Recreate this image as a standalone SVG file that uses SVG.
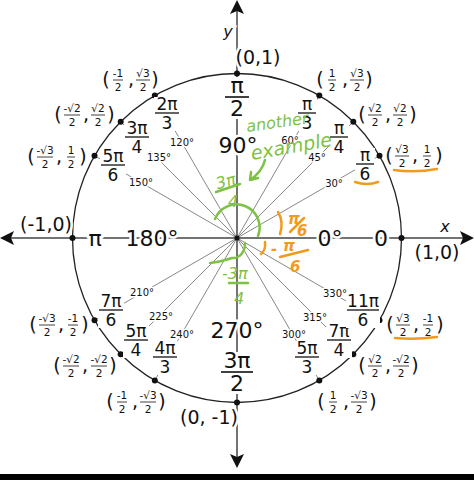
<svg xmlns="http://www.w3.org/2000/svg" width="474" height="480" viewBox="0 0 474 480">
<style>
text{font-family:"DejaVu Sans","Liberation Sans",sans-serif;fill:#111}
.ray{stroke:#888;stroke-width:1}
.deg{font-size:10px;text-anchor:middle;stroke:#fff;stroke-width:3;paint-order:stroke}
.fn{font-size:17px;text-anchor:middle}
.big{font-size:22px;text-anchor:middle}
.sm{font-size:10.5px;text-anchor:middle}
.par{font-size:19px;text-anchor:middle}
.bar{stroke:#111;stroke-width:1.3}
.g{fill:none;stroke:#7dc242;stroke-width:2.5;stroke-linecap:round}
.gt{font-family:"DejaVu Sans",sans-serif;font-style:italic;fill:#7dc242;font-size:16px}
.o{fill:none;stroke:#f29a1d;stroke-width:2.5;stroke-linecap:round}
.ot{font-family:"DejaVu Sans",sans-serif;font-style:italic;fill:#f29a1d;font-size:15px;font-weight:bold}
</style>
<rect width="474" height="480" fill="#fff"/>
<g id="connectors">
<g transform="translate(237,238)">
<line class="ray" x1="0" y1="0" x2="142" y2="-82"/>
<line class="ray" x1="0" y1="0" x2="116" y2="-116"/>
<line class="ray" x1="0" y1="0" x2="82" y2="-142"/>
<line class="ray" x1="0" y1="0" x2="-82" y2="-142"/>
<line class="ray" x1="0" y1="0" x2="-116" y2="-116"/>
<line class="ray" x1="0" y1="0" x2="-142" y2="-82"/>
<line class="ray" x1="0" y1="0" x2="-142" y2="82"/>
<line class="ray" x1="0" y1="0" x2="-116" y2="116"/>
<line class="ray" x1="0" y1="0" x2="-82" y2="142"/>
<line class="ray" x1="0" y1="0" x2="82" y2="142"/>
<line class="ray" x1="0" y1="0" x2="116" y2="116"/>
<line class="ray" x1="0" y1="0" x2="142" y2="82"/>
</g>
<line x1="4" y1="238" x2="470" y2="238" stroke="#444" stroke-width="1.5"/>
<line x1="237" y1="4" x2="237" y2="465" stroke="#444" stroke-width="1.5"/>
<path d="M0 238 L14 231 L11 238 L14 245Z M474 238 L460 231 L463 238 L460 245Z M237 0 L230 14 L237 11 L244 14Z M237 468 L230 454 L237 457 L244 454Z" fill="#111"/>
<circle cx="237" cy="238" r="164.5" fill="none" stroke="#222" stroke-width="1.3"/>
</g>
<rect x="0" y="474" width="474" height="6" fill="#000"/>
<g id="points" fill="#111">
<circle cx="237" cy="73.5" r="3"/><circle cx="237" cy="402.5" r="3"/>
<circle cx="72.5" cy="238" r="3"/><circle cx="401.5" cy="238" r="3"/>
<circle cx="379.5" cy="155.8" r="3"/><circle cx="353.3" cy="121.7" r="3"/><circle cx="319.3" cy="95.5" r="3"/>
<circle cx="154.8" cy="95.5" r="3"/><circle cx="120.7" cy="121.7" r="3"/><circle cx="94.5" cy="155.8" r="3"/>
<circle cx="94.5" cy="320.2" r="3"/><circle cx="120.7" cy="354.3" r="3"/><circle cx="154.8" cy="380.5" r="3"/>
<circle cx="319.3" cy="380.5" r="3"/><circle cx="353.3" cy="354.3" r="3"/><circle cx="379.5" cy="320.2" r="3"/>
<circle cx="237" cy="238" r="2.5"/>
</g>
<g id="angle-fractions">
<g transform="translate(365,164)"><rect x="-10" y="-16" width="20" height="34" fill="#fff"/><text class="fn" y="-3">π</text><line class="bar" x1="-9" x2="9"/><text class="fn" y="16">6</text></g>
<g transform="translate(339,137)"><rect x="-10" y="-16" width="20" height="34" fill="#fff"/><text class="fn" y="-3">π</text><line class="bar" x1="-9" x2="9"/><text class="fn" y="16">4</text></g>
<g transform="translate(307,113)"><rect x="-10" y="-16" width="20" height="34" fill="#fff"/><text class="fn" y="-3">π</text><line class="bar" x1="-9" x2="9"/><text class="fn" y="16">3</text></g>
<g transform="translate(237,97)"><rect x="-13" y="-20" width="26" height="42" fill="#fff"/><text class="big" y="-4">π</text><line class="bar" x1="-12" x2="12" style="stroke-width:1.6"/><text class="big" y="19">2</text></g>
<g transform="translate(167,113)"><rect x="-13" y="-16" width="26" height="34" fill="#fff"/><text class="fn" y="-3">2π</text><line class="bar" x1="-12" x2="12"/><text class="fn" y="16">3</text></g>
<g transform="translate(137,137)"><rect x="-13" y="-16" width="26" height="34" fill="#fff"/><text class="fn" y="-3">3π</text><line class="bar" x1="-12" x2="12"/><text class="fn" y="16">4</text></g>
<g transform="translate(113,165)"><rect x="-13" y="-16" width="26" height="34" fill="#fff"/><text class="fn" y="-3">5π</text><line class="bar" x1="-12" x2="12"/><text class="fn" y="16">6</text></g>
<g transform="translate(111,310)"><rect x="-13" y="-16" width="26" height="34" fill="#fff"/><text class="fn" y="-3">7π</text><line class="bar" x1="-12" x2="12"/><text class="fn" y="16">6</text></g>
<g transform="translate(136,340)"><rect x="-13" y="-16" width="26" height="34" fill="#fff"/><text class="fn" y="-3">5π</text><line class="bar" x1="-12" x2="12"/><text class="fn" y="16">4</text></g>
<g transform="translate(165,357)"><rect x="-13" y="-16" width="26" height="34" fill="#fff"/><text class="fn" y="-3">4π</text><line class="bar" x1="-12" x2="12"/><text class="fn" y="16">3</text></g>
<g transform="translate(237,372)"><rect x="-18" y="-20" width="36" height="42" fill="#fff"/><text class="big" y="-4">3π</text><line class="bar" x1="-16" x2="16" style="stroke-width:1.6"/><text class="big" y="19">2</text></g>
<g transform="translate(307,357)"><rect x="-13" y="-16" width="26" height="34" fill="#fff"/><text class="fn" y="-3">5π</text><line class="bar" x1="-12" x2="12"/><text class="fn" y="16">3</text></g>
<g transform="translate(339,340)"><rect x="-13" y="-16" width="26" height="34" fill="#fff"/><text class="fn" y="-3">7π</text><line class="bar" x1="-12" x2="12"/><text class="fn" y="16">4</text></g>
<g transform="translate(363,310)"><rect x="-17" y="-16" width="34" height="34" fill="#fff"/><text class="fn" y="-3">11π</text><line class="bar" x1="-16" x2="16"/><text class="fn" y="16">6</text></g>
</g>
<g id="degrees">
<text class="deg" x="334" y="187">30°</text>
<text class="deg" x="317" y="161">45°</text>
<text class="deg" x="290" y="144">60°</text>
<text class="deg" x="182" y="146">120°</text>
<text class="deg" x="159" y="161">135°</text>
<text class="deg" x="141" y="186">150°</text>
<text class="deg" x="142" y="296">210°</text>
<text class="deg" x="161" y="320">225°</text>
<text class="deg" x="182" y="338">240°</text>
<text class="deg" x="294" y="338">300°</text>
<text class="deg" x="315" y="321">315°</text>
<text class="deg" x="335" y="297">330°</text>
</g>
<g id="big-labels" style="stroke:#fff;stroke-width:5;paint-order:stroke">
<text class="big" x="238" y="153">90°</text>
<text class="big" x="237" y="338">270°</text>
<text class="big" x="152" y="246">180°</text>
<text class="big" x="330" y="246">0°</text>
<text class="big" x="95" y="246">π</text>
<text class="big" x="381" y="246">0</text>
<text style="font-size:19px;text-anchor:middle" x="258" y="64">(0,1)</text>
<text style="font-size:19px;text-anchor:middle" x="437" y="259">(1,0)</text>
<text style="font-size:19px;text-anchor:middle" x="46" y="231">(-1,0)</text>
<text style="font-size:19px;text-anchor:middle" x="209" y="424">(0, -1)</text>
<text style="font-size:16px;font-style:italic;text-anchor:middle" x="228" y="37">y</text>
<text style="font-size:16px;font-style:italic;text-anchor:middle" x="445" y="232">x</text>
</g>
<g id="coords">
<g transform="translate(344,80)"><text class="par" x="-24" y="6">(</text><text class="sm" x="-12" y="-3">1</text><line class="bar" x1="-16" x2="-8" style="stroke-width:.8"/><text class="sm" x="-12" y="11">2</text><text class="par" x="1" y="6">,</text><text class="sm" x="13" y="-3">√3</text><line class="bar" x1="6" x2="20" style="stroke-width:.8"/><text class="sm" x="13" y="11">2</text><text class="par" x="25" y="6">)</text></g>
<g transform="translate(387,115)"><text class="par" x="-25" y="6">(</text><text class="sm" x="-12" y="-3">√2</text><line class="bar" x1="-19" x2="-5" style="stroke-width:.8"/><text class="sm" x="-12" y="11">2</text><text class="par" x="1" y="6">,</text><text class="sm" x="13" y="-3">√2</text><line class="bar" x1="6" x2="20" style="stroke-width:.8"/><text class="sm" x="13" y="11">2</text><text class="par" x="26" y="6">)</text></g>
<g transform="translate(414,156)"><text class="par" x="-25" y="6">(</text><text class="sm" x="-12" y="-3">√3</text><line class="bar" x1="-19" x2="-5" style="stroke-width:.8"/><text class="sm" x="-12" y="11">2</text><text class="par" x="1" y="6">,</text><text class="sm" x="13" y="-3">1</text><line class="bar" x1="9" x2="17" style="stroke-width:.8"/><text class="sm" x="13" y="11">2</text><text class="par" x="25" y="6">)</text></g>
<g transform="translate(130,80)"><text class="par" x="-24" y="6">(</text><text class="sm" x="-12" y="-3">-1</text><line class="bar" x1="-17" x2="-7" style="stroke-width:.8"/><text class="sm" x="-12" y="11">2</text><text class="par" x="1" y="6">,</text><text class="sm" x="13" y="-3">√3</text><line class="bar" x1="6" x2="20" style="stroke-width:.8"/><text class="sm" x="13" y="11">2</text><text class="par" x="25" y="6">)</text></g>
<g transform="translate(85,115)"><text class="par" x="-27" y="6">(</text><text class="sm" x="-13" y="-3">-√2</text><line class="bar" x1="-21" x2="-5" style="stroke-width:.8"/><text class="sm" x="-13" y="11">2</text><text class="par" x="1" y="6">,</text><text class="sm" x="13" y="-3">√2</text><line class="bar" x1="6" x2="20" style="stroke-width:.8"/><text class="sm" x="13" y="11">2</text><text class="par" x="26" y="6">)</text></g>
<g transform="translate(58,157)"><text class="par" x="-27" y="6">(</text><text class="sm" x="-13" y="-3">-√3</text><line class="bar" x1="-21" x2="-5" style="stroke-width:.8"/><text class="sm" x="-13" y="11">2</text><text class="par" x="1" y="6">,</text><text class="sm" x="13" y="-3">1</text><line class="bar" x1="9" x2="17" style="stroke-width:.8"/><text class="sm" x="13" y="11">2</text><text class="par" x="25" y="6">)</text></g>
<g transform="translate(60,325)"><text class="par" x="-27" y="6">(</text><text class="sm" x="-13" y="-3">-√3</text><line class="bar" x1="-21" x2="-5" style="stroke-width:.8"/><text class="sm" x="-13" y="11">2</text><text class="par" x="1" y="6">,</text><text class="sm" x="13" y="-3">-1</text><line class="bar" x1="8" x2="18" style="stroke-width:.8"/><text class="sm" x="13" y="11">2</text><text class="par" x="25" y="6">)</text></g>
<g transform="translate(85,366)"><text class="par" x="-28" y="6">(</text><text class="sm" x="-14" y="-3">-√2</text><line class="bar" x1="-22" x2="-6" style="stroke-width:.8"/><text class="sm" x="-14" y="11">2</text><text class="par" x="0" y="6">,</text><text class="sm" x="14" y="-3">-√2</text><line class="bar" x1="6" x2="22" style="stroke-width:.8"/><text class="sm" x="14" y="11">2</text><text class="par" x="28" y="6">)</text></g>
<g transform="translate(134,402)"><text class="par" x="-24" y="6">(</text><text class="sm" x="-12" y="-3">-1</text><line class="bar" x1="-17" x2="-7" style="stroke-width:.8"/><text class="sm" x="-12" y="11">2</text><text class="par" x="1" y="6">,</text><text class="sm" x="14" y="-3">-√3</text><line class="bar" x1="6" x2="22" style="stroke-width:.8"/><text class="sm" x="14" y="11">2</text><text class="par" x="28" y="6">)</text></g>
<g transform="translate(345,402)"><text class="par" x="-24" y="6">(</text><text class="sm" x="-12" y="-3">1</text><line class="bar" x1="-16" x2="-8" style="stroke-width:.8"/><text class="sm" x="-12" y="11">2</text><text class="par" x="1" y="6">,</text><text class="sm" x="14" y="-3">-√3</text><line class="bar" x1="6" x2="22" style="stroke-width:.8"/><text class="sm" x="14" y="11">2</text><text class="par" x="28" y="6">)</text></g>
<g transform="translate(388,366)"><text class="par" x="-26" y="6">(</text><text class="sm" x="-13" y="-3">√2</text><line class="bar" x1="-20" x2="-6" style="stroke-width:.8"/><text class="sm" x="-13" y="11">2</text><text class="par" x="0" y="6">,</text><text class="sm" x="13" y="-3">-√2</text><line class="bar" x1="5" x2="21" style="stroke-width:.8"/><text class="sm" x="13" y="11">2</text><text class="par" x="27" y="6">)</text></g>
<g transform="translate(415,325)"><text class="par" x="-25" y="6">(</text><text class="sm" x="-12" y="-3">√3</text><line class="bar" x1="-19" x2="-5" style="stroke-width:.8"/><text class="sm" x="-12" y="11">2</text><text class="par" x="1" y="6">,</text><text class="sm" x="13" y="-3">-1</text><line class="bar" x1="8" x2="18" style="stroke-width:.8"/><text class="sm" x="13" y="11">2</text><text class="par" x="25" y="6">)</text></g>
</g>
<g id="annotations">
<path class="g" d="M258 236 A22 22 0 1 0 215 219"/>
<path class="g" d="M245 243 A12 14 0 0 1 232 258 Q220 262 210 263"/>
<text class="gt" x="247" y="132" transform="rotate(-8 247 132)">another</text>
<text class="gt" x="252" y="160" style="font-size:19px" transform="rotate(-10 252 160)">example</text>
<path class="g" d="M265 160 Q262 172 250 180 M250 180 L251 172 M250 180 L258 178"/>
<text class="gt" x="216" y="187" transform="rotate(-15 225 182)">3π</text>
<line class="g" x1="216" y1="192" x2="240" y2="184"/>
<text class="gt" x="228" y="207">4</text>
<text class="gt" x="222" y="279">-3π</text>
<line class="g" x1="229" y1="283" x2="248" y2="283"/>
<text class="gt" x="234" y="304">4</text>
<path class="o" d="M278 212 Q284 222 280 234"/>
<text class="ot" x="288" y="224">π</text>
<line class="o" x1="290" y1="232" x2="304" y2="218"/>
<text class="ot" x="297" y="236">6</text>
<path class="o" d="M265 242 Q266 250 261 254"/>
<text class="ot" x="271" y="254">-</text>
<text class="ot" x="283" y="251">π</text>
<line class="o" x1="280" y1="257" x2="308" y2="250"/>
<text class="ot" x="290" y="272">6</text>
<path class="o" d="M355 182 Q367 186 378 182"/>
<path class="o" d="M394 170 Q415 173 437 169"/>
<path class="o" d="M395 338 Q415 340 437 337"/>
</g>
</svg>
